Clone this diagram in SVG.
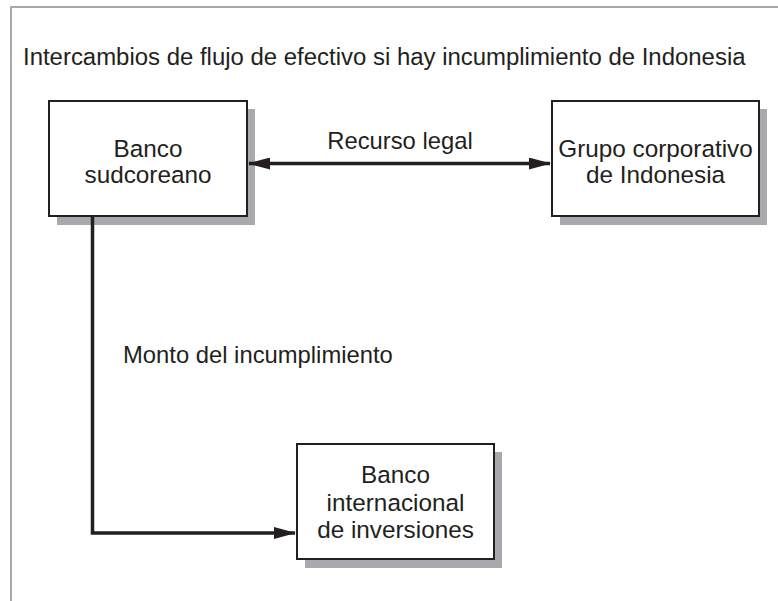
<svg xmlns="http://www.w3.org/2000/svg" width="778" height="601" viewBox="0 0 778 601">
<style>
  text { font-family: "Liberation Sans", Arial, sans-serif; font-size: 23.8px; fill: #231f20; }
  .c { text-anchor: middle; }
  .n { font-size: 24.3px; }
  .box { fill: #ffffff; stroke: #231f20; stroke-width: 2; }
  .shadow { fill: #a7a9ac; }
  .line { fill: none; stroke: #231f20; stroke-width: 3.5; }
  .frame { fill: none; stroke: #a7a9ac; stroke-width: 2; }
</style>
<defs>
  <marker id="ah" viewBox="0 0 22 12" refX="21" refY="6" markerWidth="22" markerHeight="12" markerUnits="userSpaceOnUse" orient="auto-start-reverse">
    <path d="M0,0 L22,6 L0,12 Z" fill="#231f20"/>
  </marker>
</defs>
<rect width="778" height="601" fill="#ffffff"/>
<path class="frame" d="M11,601 V7 H778"/>
<text x="23" y="65" style="font-size:23.95px">Intercambios de flujo de efectivo si hay incumplimiento de Indonesia</text>
<g id="banco-sudcoreano">
  <rect class="shadow" x="57" y="109" width="198" height="116"/>
  <rect class="box" x="49" y="101" width="198" height="115"/>
  <text class="c n" x="148" y="157">Banco</text>
  <text class="c n" x="148" y="183">sudcoreano</text>
</g>
<g id="grupo-corporativo">
  <rect class="shadow" x="560" y="109" width="207" height="116"/>
  <rect class="box" x="552" y="101" width="207" height="115"/>
  <text class="c n" x="655.5" y="157">Grupo corporativo</text>
  <text class="c n" x="655.5" y="183">de Indonesia</text>
</g>
<g id="banco-internacional">
  <rect class="shadow" x="305" y="452" width="197" height="116"/>
  <rect class="box" x="297" y="444" width="197" height="115"/>
  <text class="c n" x="395.5" y="483">Banco</text>
  <text class="c n" x="395.5" y="510.5">internacional</text>
  <text class="c n" x="395.5" y="538">de inversiones</text>
</g>
<g id="connectors">
  <line class="line" x1="249" y1="163.5" x2="550" y2="163.5" marker-start="url(#ah)" marker-end="url(#ah)"/>
  <text class="c" x="400" y="149">Recurso legal</text>
  <polyline class="line" points="92.5,217 92.5,533 295,533" marker-end="url(#ah)"/>
  <text x="123" y="363">Monto del incumplimiento</text>
</g>
</svg>
